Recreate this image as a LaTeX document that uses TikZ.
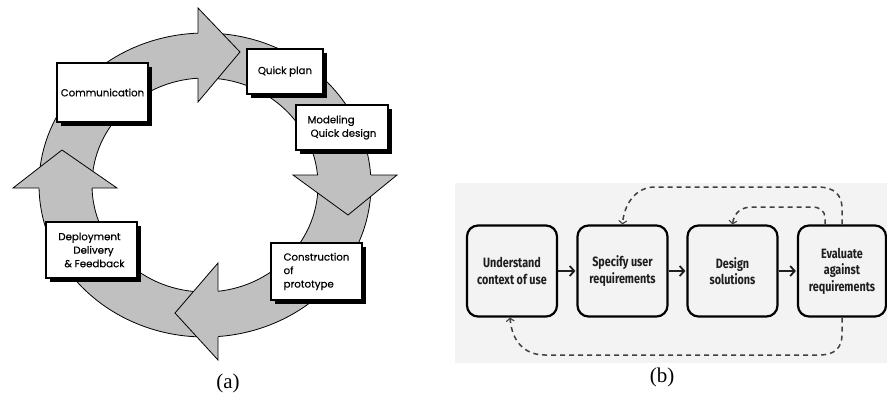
\documentclass[tikz,border=0pt]{standalone}
\usepackage{fontspec}
\setmainfont{Liberation Serif}
\newfontfamily\afont[FakeBold=0.4]{Poppins}
\newfontfamily\bfont[FakeStretch=0.8]{Fira Sans}
\usetikzlibrary{shadows,arrows.meta}
\definecolor{ringgray}{HTML}{C0C0C0}
\definecolor{bbg}{HTML}{F3F3F3}
\definecolor{bink}{HTML}{1E1E1E}
\definecolor{dashgray}{HTML}{404040}
\begin{document}
\begin{tikzpicture}[x=1pt,y=-1pt,
  abox/.style={draw=black, line width=1.2pt, fill=white,
    drop shadow={shadow xshift=4pt,shadow yshift=-4pt,fill=black,opacity=1},
    inner sep=0pt, font=\afont\fontsize{10.2}{13.5}\selectfont, align=left},
  ringline/.style={draw=black, line width=0.8pt},
  bbox/.style={draw=black, line width=2.2pt, fill=bbg, rounded corners=11pt,
    minimum width=90pt, minimum height=91pt, inner sep=0pt,
    font=\bfont\bfseries\fontsize{13.5}{16.5}\selectfont, text=bink, align=center},
  flow/.style={draw=bink, line width=2.4pt, shorten >=1pt,
    -{Straight Barb[length=4.5pt,width=10pt,line width=1.8pt]}},
  loopline/.style={draw=dashgray, line width=1.5pt, dash pattern=on 5pt off 4pt,
    -{Straight Barb[length=3pt,width=8pt,line width=1.1pt]}},
  captext/.style={font=\fontsize{21}{24}\selectfont}
]
\useasboundingbox (0,0) rectangle (887,394);

% ---------- (a) ring ----------
\fill[ringgray, even odd rule] (205,185) ellipse [x radius=166pt, y radius=152pt]
  (205,185) ellipse [x radius=113pt, y radius=107pt];
\draw[ringline] (205,185) ellipse [x radius=166pt, y radius=152pt];
\draw[ringline] (205,185) ellipse [x radius=113pt, y radius=107pt];

% arrowheads
\fill[ringgray] (198,8) -- (240,52) -- (198,102) -- cycle;
\draw[ringline, line join=miter] (198,33) -- (198,8) -- (240,52) -- (198,102) -- (198,78);
\fill[ringgray] (293,175) -- (348,215) -- (397,175) -- cycle;
\draw[ringline, line join=miter] (318,175) -- (293,175) -- (348,215) -- (397,175) -- (371,175);
\fill[ringgray] (218,263) -- (175,313) -- (218,360) -- cycle;
\draw[ringline, line join=miter] (218,291) -- (218,263) -- (175,313) -- (218,360) -- (218,337);
\fill[ringgray] (13,188) -- (62,150) -- (117,188) -- cycle;
\draw[ringline, line join=miter] (39,188) -- (13,188) -- (62,150) -- (117,188) -- (92,188);

% boxes
\node[abox, minimum width=91pt, minimum height=59pt] (comm) at (102.5,92.5) {Communication};
\node[abox, minimum width=76pt, minimum height=45pt] (qplan) at (285,71.5) {Quick plan};
\node[abox, minimum width=92pt, minimum height=45pt] (model) at (342,127.5) {Modeling\\\hspace*{3pt}Quick design};
\node[abox, minimum width=91pt, minimum height=57pt] (constr) at (316.5,271.5) {Construction\\of\\prototype};
\node[abox, minimum width=91pt, minimum height=56pt] (deploy) at (91.5,250) {Deployment\\\hspace*{15pt}Delivery\\\hspace*{6pt}\&~Feedback};

\node[captext] (capa) at (228,383) {(a)};

% ---------- (b) ----------
\fill[bbg] (455,183) rectangle (887,363);
\node[bbox] (un) at (512,271) {Understand\\context of use};
\node[bbox] (sp) at (622.5,271) {Specify user\\requirements};
\node[bbox] (ds) at (732.5,271) {Design\\solutions};
\node[bbox, minimum width=88pt] (ev) at (842,271) {Evaluate\\against\\requirements};

\draw[flow] (un) -- (sp);
\draw[flow] (sp) -- (ds);
\draw[flow] (ds) -- (ev);

\draw[loopline] (ev.north) -- (842,208) .. controls (842,195) and (834,187) .. (818,187)
  -- (655,187) .. controls (635,187) and (624,205) .. (sp.north);
\draw[loopline] ([xshift=-17pt]ev.north) -- (825,218) .. controls (825,211) and (820,207) .. (812,207)
  -- (752,207) .. controls (741,207) and (734,213) .. (ds.north);
\draw[loopline] (ev.south) -- (842,335) .. controls (842,348) and (834,355) .. (820,355)
  -- (545,355) .. controls (525,355) and (512,342) .. ([xshift=-2pt]un.south);

\node[captext] (capb) at (662,377) {(b)};
\end{tikzpicture}
\end{document}
